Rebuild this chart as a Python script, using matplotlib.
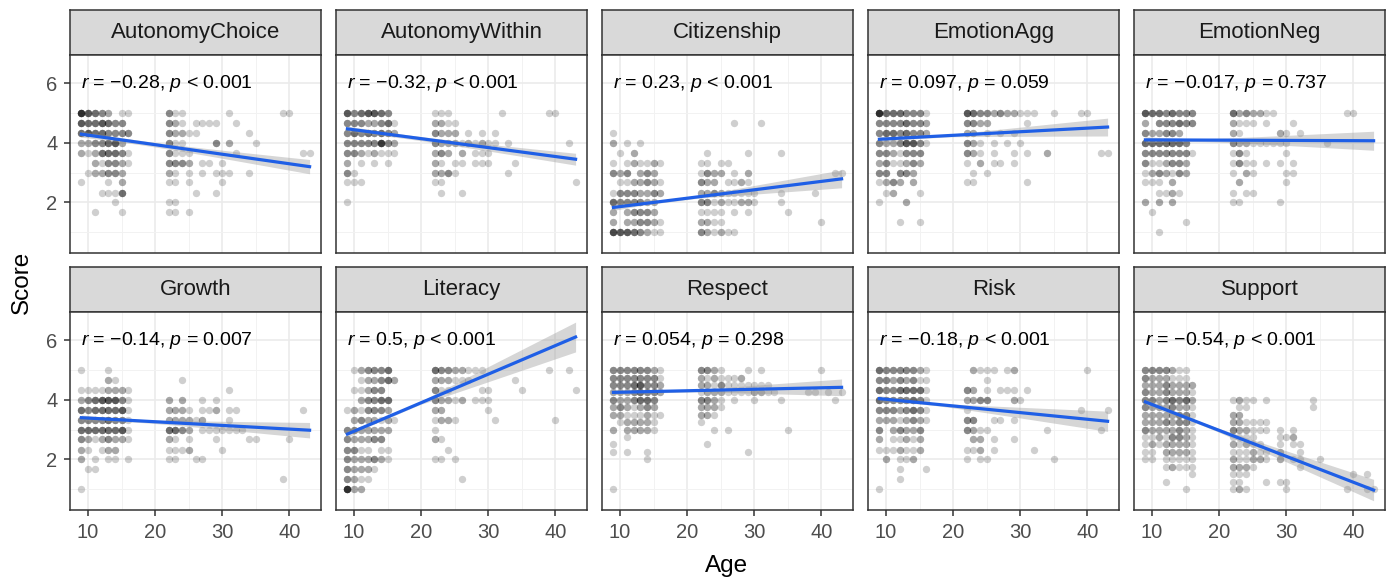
# facet_age_scores.py
# Score against age for ten subscales, one facet each, with a linear fit and its 95% band.

import numpy as np
import matplotlib.pyplot as plt

plt.rcParams['font.family'] = ['Liberation Sans', 'DejaVu Sans']
plt.rcParams['mathtext.fontset'] = 'custom'
plt.rcParams['mathtext.it'] = 'Liberation Sans:italic'
plt.rcParams['mathtext.rm'] = 'Liberation Sans'

# ---- data ----
# Each grid row is one score level (top to bottom); characters are point counts
# for ages 9..43, written in groups of five ages: 9-13 14-18 19-23 24-28 29-33 34-38 39-43
panels = ["AutonomyChoice", "AutonomyWithin", "Citizenship", "EmotionAgg", "EmotionNeg",
          "Growth", "Literacy", "Respect", "Risk", "Support"]

first_age = 9
thirds = [5.0, 4.67, 4.33, 4.0, 3.67, 3.33, 3.0, 2.67, 2.33, 2.0, 1.67, 1.33, 1.0]
quarters = [5.0, 4.75, 4.5, 4.25, 4.0, 3.75, 3.5, 3.25, 3.0, 2.75, 2.5, 2.25, 2.0,
            1.75, 1.5, 1.25, 1.0]

autonomy_choice = [
    "85432 .11.. ...31 1.... ..1.. ..... 11...",
    "54454 33... ...32 1.111 1..1.",
    "45443 333.. ...32 211.. ..... 1....",
    "22334 52... ...31 1.... 3.2.. .1...",
    "21244 431.. ...31 11... ...1. ..... ...11",
    "..213 321.. ...33 32.11 .1...",
    ".1223 32... ...21 .1.1. 111.. 1....",
    "1...1 .2... ...11 .1... .1...",
    "...11 14... ..... ..1.. 1....",
    "..... 1.... ...11",
    "..1.. .1... ...11 .1...",
    "",
    "",
]
autonomy_within = [
    "53455 43... ...11 1.... ...1. ..... 11...",
    "33322 341.. ...22 11...",
    "34343 432.. ...32 22.1. 1.1..",
    "33333 732.. ...32 22121 211.1 ..... ...1.",
    "33212 111.. ...23 2.2.1 11...",
    "2.1.1 .1... ...21 .11.1 11... 1....",
    "31... ..... ...22 31... ....1",
    "111.. ..... ...11 ..... ..... ..... ....1",
    "..... ..... ....1 ..1..",
    "1....",
    "",
    "",
    "",
]
citizenship = [
    "",
    "..... ..... ..... ...1. ..1..",
    "1....",
    "2.1.1",
    ".1.2. ..... ....1 ..... 1.... 1....",
    "1.121 121.. ...11 .11..",
    "323.2 32... ...13 22.1. 2.... ..... ...11",
    ".1122 321.. ...32 2.112 1....",
    "13332 232.. ...22 32111 11... 1.... 1....",
    "43333 22... ...33 12112 21... 1....",
    "2.233 32... ...11 11.1. 1.... .1...",
    "2.223 321.. ...22 11... ..... ..... .1...",
    "65543 211.. ...32 1211.",
]
emotion_agg = [
    "84443 331.. ...54 33232 2111. .1... 11...",
    "33334 332.. ...33 22... ..1..",
    "34434 332.. ...22 .1.1. 1....",
    "32235 531.. ...32 1.1.1 .1...",
    "33213 33... ...32 1.1.. 1.1.. 2.... ...11",
    "23112 32... ...1. 2.11. 1....",
    "33.33 2.... ....1 .1...",
    "1232. 2.... ...11 ..... ..1..",
    ".12.. .1...",
    "1...2",
    "",
    "...1. .1...",
    "",
]
emotion_neg = [
    "54434 333.. ...42 32211 ..... ..... 11...",
    "2.333 433.. ...21 11.1. ..1..",
    "32233 2.... ...21 ..... 21.1.",
    "44444 43... ...32 21111 11... ..1..",
    "33333 331.. ...13 1.... .1...",
    "31123 32... ...13 11.1. 1.1..",
    "12321 32... ...1. 21... .11..",
    "111.2 ..... ....2 ..... .1...",
    "..112 1.... ...1. 11...",
    "2.2.2 ..... ...11 ..... 1....",
    ".1...",
    "..... .1...",
    "..1..",
]
growth = [
    "1...1",
    "....2 1.... ..... 1....",
    "11112 221.. ..... ..... ..1..",
    "23455 531.. ...2. 2..1. 1....",
    "43444 451.. ...22 21.11 2.11. ..... ...1.",
    "33334 331.. ...22 2212. ..1..",
    "44444 451.. ...44 32.11 11111",
    "32123 221.. ...21 .1... 1.... 11... .1...",
    "21.12 2.... ...11 12... .1...",
    "2.1.1 1.1.. ...11 ..11.",
    ".11..",
    "..... ..... ..... ..... ..... ..... 1....",
    "1....",
]
literacy = [
    ".1233 34... ...43 32211 1.... ..... 1..1.",
    "..122 342.. ...22 2111. ..... 1....",
    ".1123 3.... ...31 1.... 11... .1... ....1",
    "..233 44... ...32 212.1 11...",
    "12133 32... ...22 ..... .1...",
    ".2322 121.. ...12 21... ..1.. ..... .1...",
    "33222 22... ...1.",
    "32223 3.... ...21",
    "3311. 11... ..... 1....",
    "32223 21... ...11 .1...",
    "32221",
    "3211. ..... ..... ..1..",
    "822..",
]
respect = [
    "33333 321.. ...33 21... 1.1.. ..... .1...",
    "33333 331.. ...21 21112",
    "33345 332.. ...22 13111 1111.",
    "22234 332.. ...12 22111 12211 ....1 1.1.1",
    "32234 43... ...33 21.1. .1... 1.... ...1.",
    "23212 32... ...22 21...",
    "22111 211.. ...22 1....",
    ".1222 21... ...1.",
    "2.222 21... ..... 1.1.. ..... .1...",
    "..1..",
    "1.... ..... ....1",
    "1.1.. 1.... ..... ..... 1....",
    "..... 1....",
    "",
    "",
    "",
    "1....",
]
risk = [
    "43333 321.. ....2 111.1 2.... ..... .1...",
    "33232 311.. ..... .1...",
    "43344 441.. ...32 .1.11 1.1..",
    "43333 431.. ...22 33... 21...",
    "33323 431.. ...1. ..... ..... ..... 1...1",
    "22212 321.. ...33 ..11. 1....",
    "3.232 23... ...32 11... ..... 1.... ...1.",
    "2.112 12... ....2 2.1.. 1....",
    "11121 12... ...11 2.1.. ...1.",
    ".2.11 2.... ...1. 11... ..... .1...",
    "...1. ..1..",
    "...1.",
    "1....",
]
support = [
    "33332 11...",
    "32221 11...",
    "22232 222..",
    "32232 221..",
    "33234 342.. ...12 11.1. ..... 1....",
    "32223 221.. ....1 1.... ..... 1....",
    "22222 331.. ...22",
    "22232 331.. ...22 1111.",
    "32222 321.. ...32 2111. 1.1..",
    "11213 321.. ...11 11... 112..",
    "12122 221.. ...21 211.. 1.11.",
    "11.22 221.. ...11 1211. 2..1.",
    "11.11 111.. ...21 1221. 2.11. .1...",
    "...12 111.. ...22 21... ...1.",
    "..... ..1.. ...11 1.... ..... ..... .1.1.",
    "...1. ..... ...11 ...1. 11...",
    "..... .1... ...12 1.... .1... ..... 1..11",
]

grids = [autonomy_choice, autonomy_within, citizenship, emotion_agg, emotion_neg,
         growth, literacy, respect, risk, support]
score_levels = [thirds, thirds, thirds, thirds, thirds,
                thirds, thirds, quarters, thirds, quarters]

# fitted line read at age 9 and age 43, and half width of the band at both ends
fit_at_9 = [4.29, 4.47, 1.83, 4.12, 4.10, 3.40, 2.85, 4.25, 4.04, 3.93]
fit_at_43 = [3.20, 3.45, 2.79, 4.53, 4.07, 2.98, 6.11, 4.42, 3.28, 0.97]
band_at_9 = [0.10, 0.09, 0.10, 0.09, 0.10, 0.09, 0.12, 0.08, 0.10, 0.12]
band_at_43 = [0.24, 0.20, 0.30, 0.30, 0.32, 0.26, 0.50, 0.28, 0.34, 0.36]

r_text = ["−0.28", "−0.32", "0.23", "0.097", "−0.017",
          "−0.14", "0.5", "0.054", "−0.18", "−0.54"]
p_text = ["< 0.001", "< 0.001", "< 0.001", "= 0.059", "= 0.737",
          "= 0.007", "< 0.001", "= 0.298", "< 0.001", "< 0.001"]


def grid_points(rows, levels):
    ages, scores = [], []
    for row, level in zip(rows, levels):
        cells = "".join(g.ljust(5, ".") for g in row.split())
        for i, ch in enumerate(cells):
            if ch.isdigit():
                ages += [first_age + i] * int(ch)
                scores += [level] * int(ch)
    return np.array(ages, float), np.array(scores, float)


W, H = 1391, 579
fig = plt.figure(figsize=(W / 100, H / 100), dpi=100)

col_x = [70, 336, 602, 868, 1134]
panel_w = 251
strip_top = [10, 267]
strip_h = 45
panel_h = 198
border = "#333333"


def px_axes(x0, top, w, h):
    return fig.add_axes([x0 / W, 1 - (top + h) / H, w / W, h / H])


ages_line = np.linspace(9, 43, 100)

for k, name in enumerate(panels):
    row, col = divmod(k, 5)
    x0 = col_x[col]
    top = strip_top[row]

    # strip
    sax = px_axes(x0, top, panel_w, strip_h)
    sax.set_facecolor("#D9D9D9")
    sax.set_xticks([])
    sax.set_yticks([])
    for s in sax.spines.values():
        s.set_color(border)
        s.set_linewidth(1.1)
    sax.text(0.5, 0.5, name, ha="center", va="center", fontsize=16, color="#1A1A1A",
             transform=sax.transAxes)

    ax = px_axes(x0, top + strip_h, panel_w, panel_h)
    ax.set_xlim(7.3, 44.7)
    ax.set_ylim(0.3, 6.95)
    ax.set_xticks([10, 20, 30, 40])
    ax.set_xticks([15, 25, 35], minor=True)
    ax.set_yticks([2, 4, 6])
    ax.set_yticks([1, 3, 5], minor=True)
    ax.grid(True, which="major", color="#EBEBEB", lw=1.2, zorder=0)
    ax.grid(True, which="minor", color="#F2F2F2", lw=0.7, zorder=0)
    ax.set_axisbelow(True)
    for s in ax.spines.values():
        s.set_color(border)
        s.set_linewidth(1.1)
    ax.tick_params(which="minor", length=0)
    ax.tick_params(which="major", length=4, width=1.1, color=border,
                   labelsize=14.5, labelcolor="#4D4D4D", pad=5,
                   left=(col == 0), labelleft=(col == 0),
                   bottom=(row == 1), labelbottom=(row == 1))

    a, s = grid_points(grids[k], score_levels[k])
    ax.scatter(a, s, s=28, color="black", alpha=0.19, linewidths=0, zorder=2)

    # linear fit and its confidence band
    slope = (fit_at_43[k] - fit_at_9[k]) / (43 - 9)
    fit = fit_at_9[k] + slope * (ages_line - 9)
    xbar = a.mean()
    d9, d43 = (9 - xbar) ** 2, (43 - xbar) ** 2
    b = (band_at_43[k] ** 2 - band_at_9[k] ** 2) / (d43 - d9)
    c = band_at_9[k] ** 2 - b * d9
    hw = np.sqrt(np.maximum(c + b * (ages_line - xbar) ** 2, 0.002))
    ax.fill_between(ages_line, fit - hw, fit + hw, color="#999999", alpha=0.4,
                    linewidth=0, zorder=3)
    ax.plot(ages_line, fit, color="#1F5FE6", lw=2.3, zorder=4)

    ax.text(9.0, 6.0, r"$r$ = " + r_text[k] + r", $p$ " + p_text[k],
            fontsize=14, color="black", ha="left", va="center", zorder=5)

fig.text(727 / W, 1 - 566 / H, "Age", ha="center", va="center", fontsize=17.5)
fig.text(22 / W, 1 - 282 / H, "Score", ha="center", va="center", rotation=90,
         fontsize=17.5)

fig.savefig("out.png", dpi=100)
